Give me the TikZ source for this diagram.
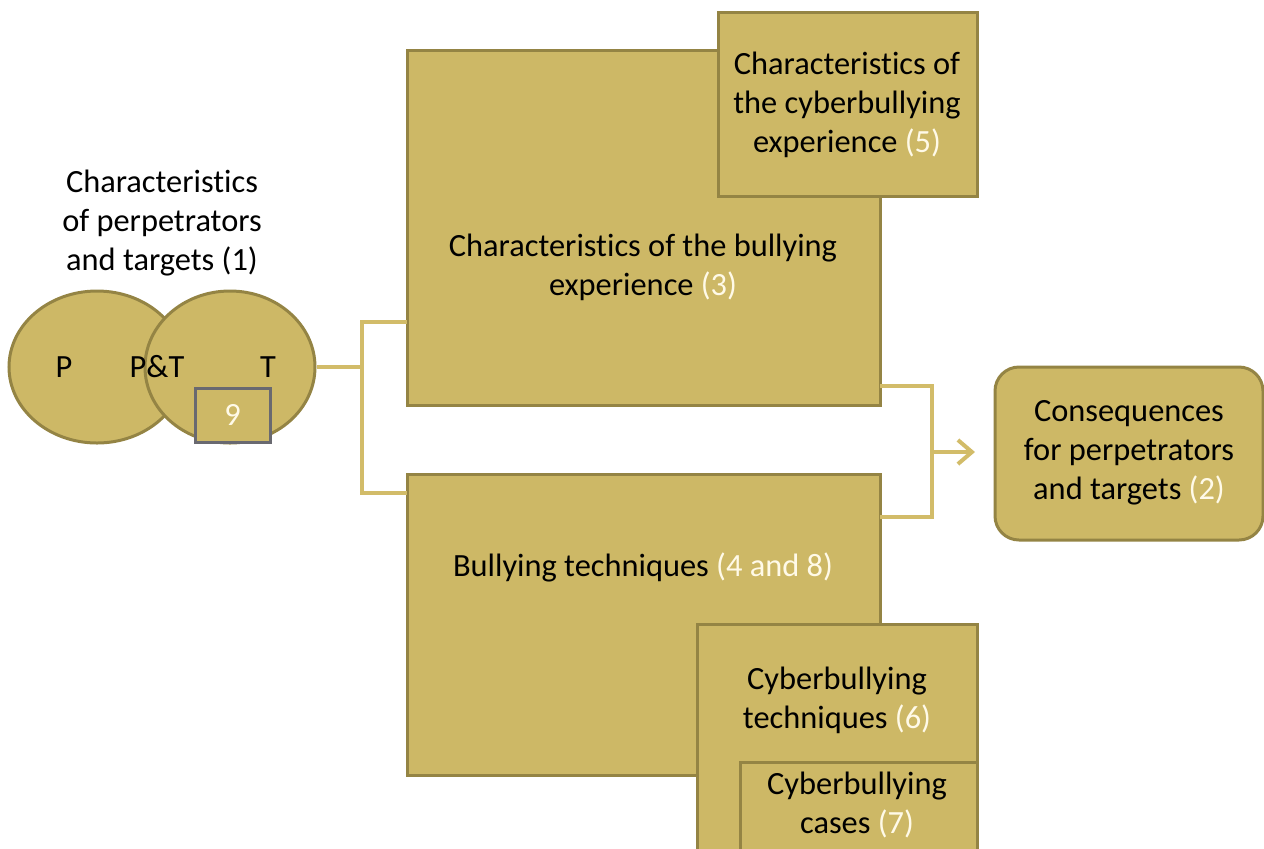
\documentclass[tikz,border=0pt]{standalone}
\usepackage{fontspec}
\setmainfont[Ligatures=NoCommon]{Carlito}
\usetikzlibrary{shapes.geometric,arrows.meta}
\definecolor{gold}{RGB}{205,184,102}
\definecolor{goldedge}{RGB}{148,132,68}
\definecolor{goldline}{RGB}{210,188,105}
\definecolor{numw}{RGB}{255,250,232}
\definecolor{grayedge}{RGB}{105,105,112}
\newcommand{\num}[1]{\textcolor{numw}{#1}}
\tikzset{
  goldbox/.style={draw=goldedge,fill=gold,line width=1.5pt,minimum width=#1,inner sep=0pt},
  blob/.style={ellipse,draw=goldedge,fill=gold,line width=1.5pt,inner sep=0pt},
  txt/.style={align=center,font=\fontsize{16.2}{19.5}\selectfont,text=black,inner sep=0pt},
  conn/.style={draw=goldline,line width=2pt},
}
\begin{document}
\begin{tikzpicture}[x=0.5pt,y=-0.5pt]
\useasboundingbox (0,0) rectangle (1264,848);
\clip (0,0) rectangle (1264,848);
% title
\node[txt] (title) at (162,223) {Characteristics\\of perpetrators\\and targets (1)};
% Venn
\node[blob,minimum width=88pt,minimum height=76pt] (P) at (97,367) {};
\node[blob,minimum width=85pt,minimum height=76pt] (T) at (230,367) {};
\node[txt] (lP) at (64,367) {P};
\node[txt] (lPT) at (157,367) {P\&T};
\node[txt] (lT) at (268,367) {T};
\node[draw=grayedge,fill=gold,line width=1.5pt,minimum width=37.5pt,minimum height=27pt,inner sep=0pt,txt] (n9) at (232.5,415) {\num{9}};
% boxes
\node[goldbox=236.5pt,minimum height=177.5pt] (b3) at (643.5,227.5) {};
\node[txt] (t3) at (643,267) {Characteristics of the bullying\\experience \num{(3)}};
\node[goldbox=129.5pt,minimum height=92pt] (b5) at (847.5,104) {};
\node[txt] (t5) at (847,105) {Characteristics of\\the cyberbullying\\experience \num{(5)}};
\node[goldbox=236.5pt,minimum height=150.5pt] (b48) at (643.5,624.5) {};
\node[txt] (t48) at (643,567) {Bullying techniques \num{(4 and 8)}};
\node[goldbox=140pt,minimum height=123pt] (b6) at (837,747) {};
\node[txt] (t6) at (837,700) {Cyberbullying\\techniques \num{(6)}};
\node[goldbox=118.5pt,minimum height=54pt] (b7) at (858.5,816) {};
\node[txt] (t7) at (857,805) {Cyberbullying\\cases \num{(7)}};
\node[goldbox=134pt,minimum height=86.5pt,rounded corners=12pt] (cons) at (1129,453.5) {};
\node[txt] (tc) at (1129,453) {Consequences\\for perpetrators\\and targets \num{(2)}};
% connector coordinates
\coordinate (jL) at (362,367);
\coordinate (jLtop) at (362,322);
\coordinate (jLbot) at (362,493);
\coordinate (b3in) at (407,322);
\coordinate (b48in) at (407,493);
\coordinate (b3out) at (880,386);
\coordinate (b48out) at (880,517);
\coordinate (jRtop) at (932,386);
\coordinate (jRbot) at (932,517);
\coordinate (jR) at (932,452);
\coordinate (tip) at (975,452);
\draw[conn] (T.east) -- (jL);
\draw[conn] (b3in) -- (jLtop) -- (jLbot) -- (b48in);
\draw[conn] (b3out) -- (jRtop) -- (jRbot) -- (b48out);
\draw[conn,-{Straight Barb[length=7pt,width=12pt]}] (jR) -- (tip);
\end{tikzpicture}
\end{document}
